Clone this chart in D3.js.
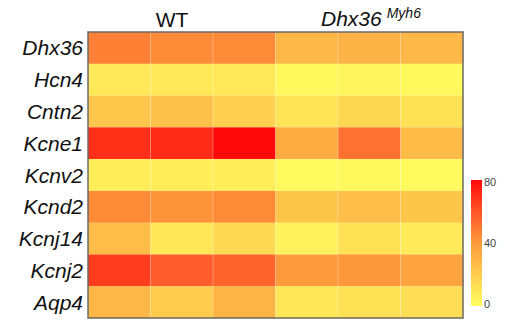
<!DOCTYPE html>
<html><head><meta charset="utf-8">
<script src="https://cdn.jsdelivr.net/npm/d3@7"></script>
<style>body{margin:0;background:#fff}svg{display:block}</style>
</head><body><svg id="c" width="512" height="320"></svg>
<script>
const genes = ["Dhx36","Hcn4","Cntn2","Kcne1","Kcnv2","Kcnd2","Kcnj14","Kcnj2","Aqp4"];
const samples = ["WT1","WT2","WT3","KO1","KO2","KO3"];
const groupLabels = ["WT","Dhx36"];
const groupSup = ["","Myh6"];
const valDhx36 = [47.5,44,44.6,28,30.5,28];
const valHcn4  = [8.7,8.7,8.7,2.4,4,2.2];
const valCntn2 = [22,24,18.6,11,16,12];
const valKcne1 = [70,71,79.5,33,52,27];
const valKcnv2 = [6.7,6.7,6.7,2,2.5,1.5];
const valKcnd2 = [44.6,41.6,44.6,23,25.7,23];
const valKcnj14= [26.5,9,14.6,5,12,8];
const valKcnj2 = [66.5,58,55.6,40,40.6,36];
const valAqp4  = [28,20.6,30,9,12,13];
const values = [valDhx36,valHcn4,valCntn2,valKcne1,valKcnv2,valKcnd2,valKcnj14,valKcnj2,valAqp4];
const legendTicks = [0,40,80];

const svg = d3.select("#c");
const L=88, R=463, T=32, B=318;
const x = d3.scaleBand().domain(samples).range([L,R]);
const y = d3.scaleBand().domain(genes).range([T,B]);
const color = d3.scaleLinear().domain([0,40,60,80])
  .range(["#FFFF60","#FD9A3C","#FE5528","#FF0808"]).clamp(true);

const cells = [];
genes.forEach((g,i)=>samples.forEach((s,j)=>cells.push({g,s,v:values[i][j]})));
svg.append("g").selectAll("rect").data(cells).join("rect")
  .attr("x",d=>x(d.s)).attr("y",d=>y(d.g))
  .attr("width",x.bandwidth()+0.3).attr("height",y.bandwidth()+0.3)
  .attr("fill",d=>color(d.v));

// faint column separators
svg.append("g").selectAll("line").data(samples.slice(1)).join("line")
  .attr("x1",d=>x(d)).attr("x2",d=>x(d)).attr("y1",T).attr("y2",B)
  .attr("stroke","#fff").attr("stroke-opacity",0.3).attr("stroke-width",1);
svg.append("g").selectAll("line").data(genes.slice(1)).join("line")
  .attr("x1",L).attr("x2",R).attr("y1",d=>y(d)).attr("y2",d=>y(d))
  .attr("stroke","#fff").attr("stroke-opacity",0.08).attr("stroke-width",1);

svg.append("rect").attr("x",L).attr("y",T).attr("width",R-L).attr("height",B-T)
  .attr("fill","none").attr("stroke","#666").attr("stroke-opacity",0.9).attr("stroke-width",1.6);

// row labels
svg.append("g").selectAll("text").data(genes).join("text")
  .attr("x",83).attr("y",d=>y(d)+y.bandwidth()/2+7.5)
  .attr("text-anchor","end")
  .style("font-family","'Liberation Sans',Arial,sans-serif")
  .style("font-style","italic").style("font-size","21px").attr("fill","#111")
  .text(d=>d);

// group labels
svg.append("text").attr("x",172).attr("y",27).attr("text-anchor","middle")
  .style("font-family","'Liberation Sans',Arial,sans-serif").style("font-size","21px")
  .attr("fill","#111").text(groupLabels[0]);
const t2 = svg.append("text").attr("x",321).attr("y",26)
  .style("font-family","'Liberation Sans',Arial,sans-serif").attr("fill","#111");
t2.append("tspan").style("font-style","italic").style("font-size","21px").text(groupLabels[1]);
t2.append("tspan").attr("dx",5).attr("dy",-8).style("font-style","italic").style("font-size","14px").text(groupSup[1]);

// legend
const ly = d3.scaleLinear().domain([0,80]).range([304,182]);
const defs = svg.append("defs");
const grad = defs.append("linearGradient").attr("id","lg").attr("x1",0).attr("x2",0).attr("y1",1).attr("y2",0);
d3.range(0,81,5).forEach(v=>grad.append("stop").attr("offset",v/80).attr("stop-color",color(v)));
svg.append("rect").attr("x",471).attr("y",180).attr("width",11).attr("height",126).attr("fill","url(#lg)");
svg.append("g").selectAll("line").data([40]).join("line")
  .attr("x1",469).attr("x2",484).attr("y1",d=>ly(d)).attr("y2",d=>ly(d))
  .attr("stroke","#fff").attr("stroke-width",1).attr("stroke-dasharray","2,11");
svg.append("g").selectAll("text").data(legendTicks).join("text")
  .attr("x",484).attr("y",d=>ly(d)+4)
  .style("font-family","'Liberation Sans',Arial,sans-serif").style("font-size","11px")
  .attr("fill","#444").text(d=>d);
</script></body></html>
